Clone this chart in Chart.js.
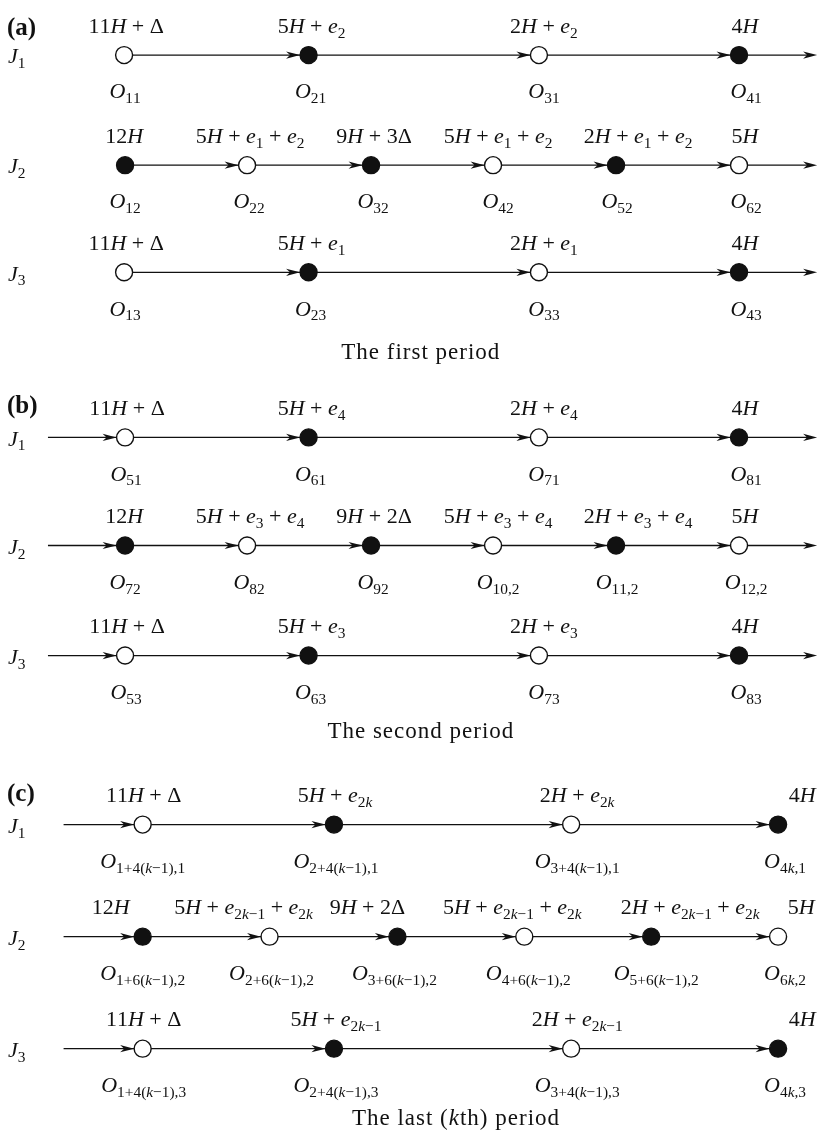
<!DOCTYPE html>
<html>
<head>
<meta charset="utf-8">
<script src="https://cdn.jsdelivr.net/npm/chart.js@4.4.1/dist/chart.umd.min.js"></script>
<style>
  html, body { margin: 0; padding: 0; background: #fff; }
  #diagram { display: block; }
</style>
</head>
<body>
<canvas id="diagram" width="828" height="1148"></canvas>
<script>
// node positions along each job line, per period
const nodesA = [[117, 306, 542, 747], [118, 243, 370, 495, 621, 747], [117, 306, 542, 747]];
const nodesB = [[118, 306, 542, 747], [118, 243, 370, 495, 621, 747], [118, 306, 542, 747]];
const nodesC = [[136, 332, 575, 787], [136, 266, 397, 527, 657, 787], [136, 332, 575, 787]];

// 1 = filled circle, 0 = open circle (same pattern in every period)
const filled = [[0, 1, 0, 1], [1, 0, 1, 0, 1, 0], [0, 1, 0, 1]];

const jobs = ['J_1', 'J_2', 'J_3'];
const tags = ['(a)', '(b)', '(c)'];
const captions = ['The first period', 'The second period', 'The last ($k$th) period'];

// operation times above the nodes
const timesA = [
  ['11H + Δ', '5H + e_2', '2H + e_2', '4H'],
  ['12H', '5H + e_1 + e_2', '9H + 3Δ', '5H + e_1 + e_2', '2H + e_1 + e_2', '5H'],
  ['11H + Δ', '5H + e_1', '2H + e_1', '4H']
];
const timesB = [
  ['11H + Δ', '5H + e_4', '2H + e_4', '4H'],
  ['12H', '5H + e_3 + e_4', '9H + 2Δ', '5H + e_3 + e_4', '2H + e_3 + e_4', '5H'],
  ['11H + Δ', '5H + e_3', '2H + e_3', '4H']
];
const timesC = [
  ['11H + Δ', '5H + e_{2k}', '2H + e_{2k}', '4H'],
  ['12H', '5H + e_{2k-1} + e_{2k}', '9H + 2Δ', '5H + e_{2k-1} + e_{2k}', '2H + e_{2k-1} + e_{2k}', '5H'],
  ['11H + Δ', '5H + e_{2k-1}', '2H + e_{2k-1}', '4H']
];

// operation names below the nodes
const opsA = [
  ['O_{11}', 'O_{21}', 'O_{31}', 'O_{41}'],
  ['O_{12}', 'O_{22}', 'O_{32}', 'O_{42}', 'O_{52}', 'O_{62}'],
  ['O_{13}', 'O_{23}', 'O_{33}', 'O_{43}']
];
const opsB = [
  ['O_{51}', 'O_{61}', 'O_{71}', 'O_{81}'],
  ['O_{72}', 'O_{82}', 'O_{92}', 'O_{10,2}', 'O_{11,2}', 'O_{12,2}'],
  ['O_{53}', 'O_{63}', 'O_{73}', 'O_{83}']
];
const opsC = [
  ['O_{1+4(k-1),1}', 'O_{2+4(k-1),1}', 'O_{3+4(k-1),1}', 'O_{4k,1}'],
  ['O_{1+6(k-1),2}', 'O_{2+6(k-1),2}', 'O_{3+6(k-1),2}', 'O_{4+6(k-1),2}', 'O_{5+6(k-1),2}', 'O_{6k,2}'],
  ['O_{1+4(k-1),3}', 'O_{2+4(k-1),3}', 'O_{3+4(k-1),3}', 'O_{4k,3}']
];

// ---- layout ----
const rowY = [[46, 158, 267], [435, 545, 657], [829, 943, 1057]];
const tagY = [17, 402, 797];
const capPos = [[421, 347], [421, 733], [457, 1127]];
const leadIn = [null, 39, 55];     // where the incoming arrow starts
const leadOut = [827, 827, null];  // where the outgoing arrow ends
const topDx = [
  [[2, 3, 5, 6], [-1, 3, 3, 5, 22, 6], [2, 3, 5, 6]],
  [[2, 3, 5, 6], [-1, 3, 3, 5, 22, 6], [2, 3, 5, 6]],
  [[1, 1, 6, 24], [-32, -26, -30, -12, 39, 23], [1, 2, 6, 24]]
];
const botDx = [
  [[1, 2, 5, 7], [0, 2, 2, 5, 1, 7], [1, 2, 5, 7]],
  [[1, 2, 5, 7], [0, 2, 2, 5, 1, 7], [1, 2, 5, 7]],
  [[0, 2, 6, 7], [0, 2, -3, 4, 5, 7], [1, 2, 6, 7]]
];
const SERIF = '"Liberation Serif", "DejaVu Serif", serif';
const FS = 22;
const CAP_FS = 23;
const R = 8.5;
const INK = '#111';

const nodes = [nodesA, nodesB, nodesC];
const times = [timesA, timesB, timesC];
const ops = [opsA, opsB, opsC];

// tiny math-ish text: letters italic, _{..} subscripts, + gets spacing
function parseMath(s, sub) {
  const out = [];
  let i = 0;
  while (i < s.length) {
    const ch = s[i];
    if (ch === ' ') { i++; continue; }
    if (ch === '_') {
      i++;
      let g;
      if (s[i] === '{') {
        let d = 1, j = i + 1;
        while (d > 0) { if (s[j] === '{') d++; else if (s[j] === '}') d--; j++; }
        g = s.slice(i + 1, j - 1);
        i = j;
      } else { g = s[i]; i++; }
      out.push(...parseMath(g, true));
      continue;
    }
    if (ch === '+' || ch === '-') {
      out.push({ t: ch === '+' ? '+' : '\u2212', it: false, sub, op: !sub });
      i++;
      continue;
    }
    out.push({ t: ch, it: /[A-Za-z]/.test(ch), sub });
    i++;
  }
  return out;
}

function richTokens(s) {
  const parts = s.split('$');
  let out = [];
  parts.forEach((p, k) => {
    if (k % 2) out = out.concat(parseMath(p, false));
    else if (p) out.push({ t: p, it: false, sub: false });
  });
  return out;
}

function placeTokens(ctx, toks, size) {
  let x = 0;
  const placed = [];
  toks.forEach(tok => {
    const s = tok.sub ? size * 0.7 : size;
    ctx.font = (tok.it ? 'italic ' : '') + s.toFixed(1) + 'px ' + SERIF;
    const pad = tok.op ? size * 0.25 : 0;
    x += pad;
    placed.push({ tok, x, font: ctx.font, dy: tok.sub ? size * 0.22 : 0 });
    x += ctx.measureText(tok.t).width + pad;
  });
  return { placed, width: x };
}

function drawTokens(ctx, toks, x, baseY, size, align) {
  const lay = placeTokens(ctx, toks, size);
  const x0 = align === 'left' ? x : x - lay.width / 2;
  ctx.fillStyle = INK;
  ctx.textBaseline = 'alphabetic';
  ctx.textAlign = 'left';
  lay.placed.forEach(p => {
    ctx.font = p.font;
    ctx.fillText(p.tok.t, x0 + p.x, baseY + p.dy);
  });
}

function arrowHead(ctx, tx, y) {
  ctx.beginPath();
  ctx.moveTo(tx, y);
  ctx.lineTo(tx - 14, y - 3.6);
  ctx.lineTo(tx - 10, y);
  ctx.lineTo(tx - 14, y + 3.6);
  ctx.closePath();
  ctx.fill();
}

const rows = [];
for (let p = 0; p < 3; p++) {
  for (let j = 0; j < 3; j++) {
    rows.push({ p, j, xs: nodes[p][j], level: rowY[p][j] });
  }
}

const datasets = rows.map(r => ({
  label: tags[r.p] + ' ' + jobs[r.j],
  data: r.xs.map(x => ({ x, y: r.level })),
  showLine: false,
  pointRadius: R,
  pointHoverRadius: R,
  pointBorderWidth: 1.4,
  pointBorderColor: INK,
  pointBackgroundColor: filled[r.j].map(f => f ? INK : '#fff'),
  clip: false
}));

const diagram = {
  id: 'diagram',
  beforeDatasetsDraw(chart) {
    const { ctx } = chart;
    const sx = chart.scales.x, sy = chart.scales.y;
    ctx.save();
    ctx.strokeStyle = INK;
    ctx.fillStyle = INK;
    ctx.lineWidth = 1.3;
    rows.forEach(r => {
      const Y = sy.getPixelForValue(r.level);
      const X = r.xs.map(v => sx.getPixelForValue(v));
      const a = leadIn[r.p] != null ? sx.getPixelForValue(leadIn[r.p]) : X[0];
      const b = leadOut[r.p] != null ? sx.getPixelForValue(leadOut[r.p]) : X[X.length - 1];
      ctx.beginPath();
      ctx.moveTo(a, Y);
      ctx.lineTo(b - (leadOut[r.p] != null ? 8 : 0), Y);
      ctx.stroke();
      X.forEach((x, i) => {
        if (i > 0 || leadIn[r.p] != null) arrowHead(ctx, x - R, Y);
      });
      if (leadOut[r.p] != null) arrowHead(ctx, b, Y);
    });
    ctx.restore();
  },
  afterDatasetsDraw(chart) {
    const { ctx } = chart;
    const sx = chart.scales.x, sy = chart.scales.y;
    ctx.save();
    rows.forEach(r => {
      const Y = sy.getPixelForValue(r.level);
      r.xs.forEach((v, i) => {
        const x = sx.getPixelForValue(v);
        drawTokens(ctx, parseMath(times[r.p][r.j][i], false), x + topDx[r.p][r.j][i], Y - 29.5 + FS * 0.33, FS, 'center');
        drawTokens(ctx, parseMath(ops[r.p][r.j][i], false), x + botDx[r.p][r.j][i], Y + 36 + FS * 0.33, FS, 'center');
      });
      drawTokens(ctx, parseMath(jobs[r.j], false), 8, Y + FS * 0.33 + 1, FS, 'left');
    });
    tags.forEach((t, p) => {
      ctx.font = 'bold 25px ' + SERIF;
      ctx.fillStyle = INK;
      ctx.textAlign = 'left';
      ctx.textBaseline = 'alphabetic';
      ctx.fillText(t, 7, sy.getPixelForValue(tagY[p]) + 8);
    });
    ctx.letterSpacing = '1px';
    captions.forEach((c, p) => {
      drawTokens(ctx, richTokens(c), sx.getPixelForValue(capPos[p][0]), sy.getPixelForValue(capPos[p][1]) + CAP_FS * 0.33, CAP_FS, 'center');
    });
    ctx.letterSpacing = '0px';
    ctx.restore();
  }
};

new Chart(document.getElementById('diagram'), {
  type: 'scatter',
  data: { datasets },
  options: {
    responsive: false,
    animation: false,
    devicePixelRatio: 1,
    events: [],
    layout: { padding: 0 },
    plugins: { legend: { display: false }, tooltip: { enabled: false } },
    scales: {
      x: { type: 'linear', min: 0, max: 828, display: false },
      y: { type: 'linear', min: 0, max: 1148, reverse: true, display: false }
    }
  },
  plugins: [diagram]
});
</script>
</body>
</html>
